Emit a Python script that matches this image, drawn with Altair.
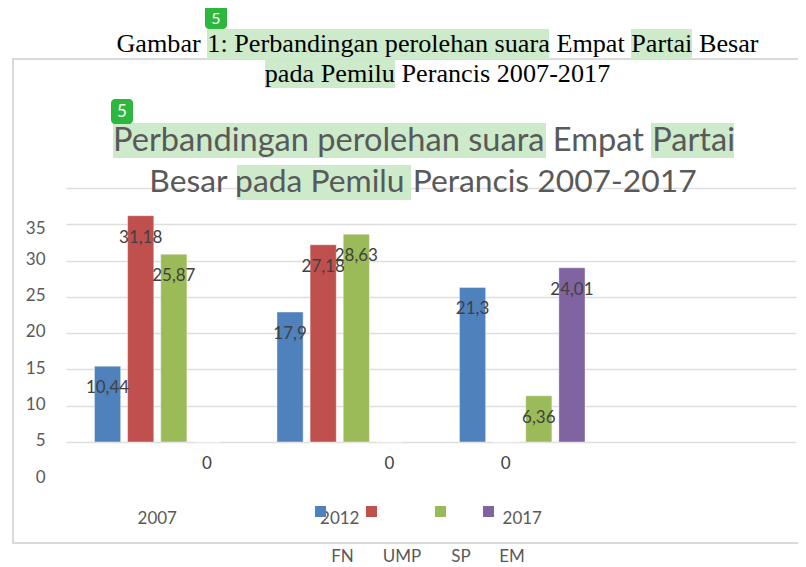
import altair as alt
import pandas as pd

YEARS = ["2007", "2012", "2017", ""]
PARTIES = ["FN", "UMP", "SP", "EM"]
COLORS = ["#4F81BD", "#C0504D", "#9BBB59", "#8064A2"]
ROW_YEAR = ["2007"] * 4 + ["2012"] * 4 + ["2017"] * 4
ROW_PARTY = PARTIES * 3
ROW_VALUE = [10.44, 31.18, 25.87, 0, 17.9, 27.18, 28.63, 0, 21.3, 0, 6.36, 24.01]
ROW_LABEL = ["10,44", "31,18", "25,87", "0", "17,9", "27,18", "28,63", "0", "21,3", "0", "6,36", "24,01"]

df = pd.DataFrame({"year": ROW_YEAR, "party": ROW_PARTY, "value": ROW_VALUE, "label": ROW_LABEL})

OX, OY = 66, 188
PW, PH = 730, 254
def X(v): return alt.value(v - OX)
def Y(v): return alt.value(v - OY)
ONE = alt.Data(values=[{"a": 1}])

x_scale = alt.Scale(domain=YEARS, paddingInner=0.312, paddingOuter=0.156)
y_scale = alt.Scale(domain=[0, 35], nice=False)
x_enc = alt.X("year:N", scale=x_scale, sort=YEARS,
              axis=alt.Axis(title=None, domain=False, ticks=False, labelAngle=0, labelFontSize=17,
                            labelFont="Lato", labelColor="#595959", labelPadding=68))
xo_enc = alt.XOffset("party:N", scale=alt.Scale(domain=PARTIES, paddingInner=0.21, paddingOuter=0))
y_enc = alt.Y("value:Q", scale=y_scale,
              axis=alt.Axis(title=None, values=[0, 5, 10, 15, 20, 25, 30, 35], domain=False, ticks=False,
                            grid=True, gridColor="#DEDEDE", gridWidth=1.5, labelFontSize=17, labelFont="Lato",
                            labelColor="#595959", labelPadding=21, labelBound=False, labelFlush=False,
                            labelOverlap=False,
                            labelOffset={"condition": {"test": "datum.value === 35", "value": 40}, "value": 35}))

bars = alt.Chart(df).mark_bar(stroke="#FFFFFF", strokeOpacity=0.4, strokeWidth=1, xOffset=-0.5).encode(
    x=x_enc, xOffset=xo_enc, y=y_enc,
    color=alt.Color("party:N", scale=alt.Scale(domain=PARTIES, range=COLORS), legend=None),
)
labels = alt.Chart(df).mark_text(fontSize=17, font="Lato", color="#404040", dy=22, baseline="middle").encode(
    x=x_enc, xOffset=xo_enc, y=y_enc, text="label:N",
)

layers = []
# outer chart frame
layers.append(alt.Chart(ONE).mark_rect(fill="transparent", stroke="#DADADA", strokeWidth=2).encode(
    x=X(13), x2=X(830), y=Y(59), y2=Y(543)))
# highlights
for x1, x2, y1, y2 in [(207, 549, 29, 59), (631, 692, 29, 59), (265, 395, 60, 88),
                       (113, 546, 123, 158), (651, 734, 123, 158), (237, 411, 165, 200)]:
    layers.append(alt.Chart(ONE).mark_rect(fill="#CDEBCB").encode(x=X(x1), x2=X(x2), y=Y(y1), y2=Y(y2)))
# badges (the page margin hides anything above y=8, so the first badge's digit sits just below it)
for x1, x2, y1, y2, ty, ts in [(205, 227, 4, 29, 19, 16), (111, 133, 99, 124, 111.5, 17)]:
    layers.append(alt.Chart(ONE).mark_rect(fill="#2DB83D", cornerRadius=4).encode(x=X(x1), x2=X(x2), y=Y(y1), y2=Y(y2)))
    layers.append(alt.Chart(ONE).mark_text(text="5", font="Lato", fontSize=ts, color="#FFFFFF", baseline="middle").encode(
        x=X((x1 + x2) / 2), y=Y(ty)))
layers += [bars, labels]
# text lines
for txt, cx, cy, size, font, color in [
    ("Gambar 1: Perbandingan perolehan suara Empat Partai Besar", 437.5, 44, 26.2, "Liberation Serif", "#000000"),
    ("pada Pemilu Perancis 2007-2017", 437.5, 74, 26.2, "Liberation Serif", "#000000"),
    ("Perbandingan perolehan suara Empat Partai", 424, 140.5, 32.6, "Lato", "#595959"),
    ("Besar pada Pemilu Perancis 2007-2017", 423, 181.5, 31.8, "Lato", "#595959"),
]:
    layers.append(alt.Chart(ONE).mark_text(text=txt, font=font, fontSize=size, color=color, baseline="middle").encode(
        x=X(cx), y=Y(cy)))
# legend
for c, lx in zip(COLORS, [315, 366, 435, 483]):
    layers.append(alt.Chart(ONE).mark_rect(fill=c).encode(x=X(lx), x2=X(lx + 11), y=Y(506), y2=Y(517)))
for p, lx in zip(PARTIES, [342.5, 402, 461, 512]):
    layers.append(alt.Chart(ONE).mark_text(text=p, font="Lato", fontSize=17, color="#595959", baseline="middle").encode(
        x=X(lx), y=Y(557)))

chart = alt.layer(*layers).resolve_scale(color="shared").properties(
    width=PW, height=PH,
    autosize=alt.AutoSizeParams(type="none"),
    padding={"left": OX - 8, "top": OY - 8, "right": 2, "bottom": 559 - (OY - 8) - PH},
).configure_view(stroke=None)

chart.save("out.html", embed_options={"renderer": "svg", "actions": False})
